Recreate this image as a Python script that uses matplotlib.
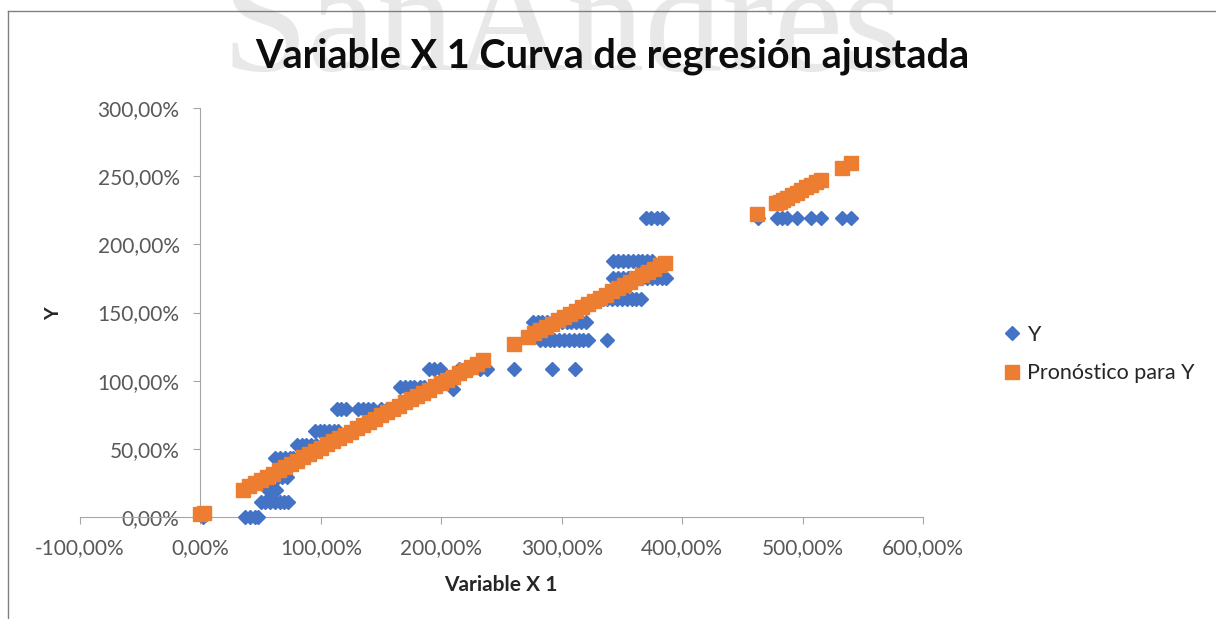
import matplotlib
matplotlib.use('Agg')
import matplotlib.pyplot as plt
from matplotlib.lines import Line2D
from matplotlib.ticker import FuncFormatter, MultipleLocator

plt.rcParams['font.family'] = ['Lato', 'DejaVu Sans']

# observed Y (blue diamonds), grouped by level
y_x = [2, 37, 41, 45, 48,
       50, 54, 58, 62, 66, 69, 73,
       56, 60, 63,
       64, 68, 72,
       62, 66, 70, 74, 77,
       80, 84, 88, 92, 96,
       95, 99, 103, 107, 111, 114,
       113, 117, 121, 131, 135, 139, 143, 150, 155,
       166, 170, 174, 177, 182, 186, 210,
       190, 194, 199, 215, 220, 225, 232, 238, 260, 292, 311,
       282, 286, 290, 294, 298, 302, 306, 310, 314, 318, 322, 338,
       276, 280, 284, 288, 292, 296, 300, 304, 308, 312, 316, 320,
       330, 334, 338, 342, 346, 350, 354, 358, 362, 366,
       343, 347, 351, 355, 359, 363, 367, 371, 375, 379, 383, 387,
       343, 347, 351, 355, 359, 363, 367, 371, 375,
       370, 374, 379, 383, 463, 479, 483, 487, 495, 507, 515, 533, 540]
y_vals = [0] * 5 + [11] * 7 + [20] * 3 + [29.5] * 3 + [43.4] * 5 + [53] * 5 \
    + [63] * 6 + [79] * 9 + [95] * 6 + [94] + [108.5] * 11 + [130] * 12 \
    + [143] * 12 + [160] * 10 + [175.5] * 12 + [187.5] * 9 + [219.4] * 13

# forecast (orange squares)
fc_x = [0, 3, 35, 40, 45, 50, 55, 60, 65, 70, 75, 80, 85, 90, 95, 100, 105, 110,
        115, 120, 125, 130, 135, 140, 145, 150, 155, 160, 165, 170, 175, 180,
        185, 190, 195, 200, 205, 210, 215, 220, 225, 230, 235, 260,
        272, 277, 282, 287, 292, 297, 302, 307, 312, 317, 322, 327, 332, 337,
        342, 347, 352, 357, 362, 367, 372, 377, 382, 386,
        462, 478, 481, 484, 487, 491, 495, 499, 503, 507, 511, 515, 533, 540]
fc_y = [2.2, 3.0, 20.0, 22.4, 24.7, 27.1, 29.5, 31.8, 34.2, 36.6, 39.0, 41.3,
        43.7, 46.1, 48.4, 50.8, 53.2, 55.5, 57.9, 60.3, 62.7, 65.0, 67.4, 69.8,
        72.1, 74.5, 76.9, 79.2, 81.6, 84.0, 86.4, 88.7, 91.1, 93.5, 95.8, 98.2,
        100.6, 102.9, 105.3, 107.7, 110.1, 112.4, 114.8, 126.6,
        132.3, 134.7, 137.1, 139.4, 141.8, 144.2, 146.5, 148.9, 151.3, 153.7,
        156.0, 158.4, 160.8, 163.1, 165.5, 167.9, 170.2, 172.6, 175.0, 177.4,
        179.7, 182.1, 184.5, 186.4,
        222.4, 230.0, 231.4, 232.8, 234.2, 236.1, 238.0, 239.9, 241.8, 243.7,
        245.6, 247.5, 256.0, 259.4]

W, H = 1216, 619
fig = plt.figure(figsize=(W / 100, H / 100), dpi=100)

# watermark
fig.text(563 / W, 1 - 70 / H, 'SanAndres', family='Liberation Serif', fontsize=112,
         color='#e8e8e8', ha='center', va='baseline', zorder=0)

# chart border (top and left)
fig.add_artist(Line2D([8 / W, 1], [1 - 11 / H, 1 - 11 / H], color='#808080', lw=1))
fig.add_artist(Line2D([8 / W, 8 / W], [0, 1 - 11 / H], color='#808080', lw=1))

ax = fig.add_axes([80 / W, 1 - 517 / H, (923 - 80) / W, (517 - 108) / H])
ax.patch.set_alpha(0)

ax.plot(y_x, y_vals, ls='none', marker='D', ms=6.8, color='#4472c4',
        mec='#4472c4', clip_on=False, label='Y', zorder=3)
ax.plot(fc_x, fc_y, ls='none', marker='s', ms=10.5, color='#ed7d31',
        mec='#ed7d31', clip_on=False, label='Pronóstico para Y', zorder=4)

ax.set_xlim(-100, 600)
ax.set_ylim(0, 300)
ax.xaxis.set_major_locator(MultipleLocator(100))
ax.yaxis.set_major_locator(MultipleLocator(50))
fmt = FuncFormatter(lambda v, p: f'{v:.2f}'.replace('.', ',') + '%')
ax.xaxis.set_major_formatter(fmt)
ax.yaxis.set_major_formatter(fmt)

for s in ['top', 'right']:
    ax.spines[s].set_visible(False)
ax.spines['left'].set_position(('data', 0))
ax.spines['left'].set_color('#a6a6a6')
ax.spines['bottom'].set_color('#a6a6a6')
ax.tick_params(axis='both', direction='out', length=5, color='#a6a6a6',
               labelcolor='#595959', labelsize=15)
ax.tick_params(axis='x', pad=10)
ax.tick_params(axis='y', pad=10)

fig.text(501 / W, 1 - 585 / H, 'Variable X 1', fontsize=15, fontweight='bold',
         ha='center', va='center', color='#262626')
fig.text(54 / W, 1 - 314 / H, 'Y', fontsize=14, fontweight='bold', rotation=90,
         ha='center', va='center', color='#262626')
fig.text(612 / W, 1 - 56 / H, 'Variable X 1 Curva de regresión ajustada',
         fontsize=28.5, fontweight='bold', ha='center', va='center', color='#0d0d0d')

fig.legend(loc='center left', bbox_to_anchor=(994 / W, 1 - 354 / H), frameon=False,
           fontsize=15.5, handlelength=0.9, handletextpad=0.25, labelspacing=0.85,
           labelcolor='#262626', borderaxespad=0)

plt.savefig('out.png', dpi=100)
